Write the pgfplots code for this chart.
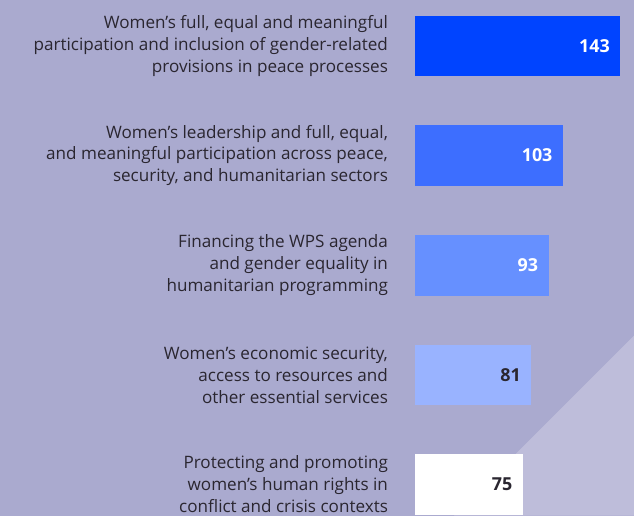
\documentclass[border=0pt]{standalone}
\usepackage{pgfplots}
\pgfplotsset{compat=1.18}
\usepackage{fontspec}
\setmainfont{Open Sans}
\definecolor{bg}{HTML}{AAAACF}
\definecolor{tri}{HTML}{BEBDDA}
\definecolor{txt}{HTML}{2A2630}
\definecolor{cA}{HTML}{0044FF}
\definecolor{cB}{HTML}{3D6EFF}
\definecolor{cC}{HTML}{6690FF}
\definecolor{cD}{HTML}{99B3FF}
\definecolor{cE}{HTML}{FFFFFF}
\begin{document}
\begin{tikzpicture}
\fill[bg] (-418pt,0pt) rectangle (220pt,519pt);
\fill[tri] (220pt,181pt) -- (220pt,0pt) -- (39pt,0pt) -- cycle;
\begin{axis}[
  at={(0pt,0pt)}, anchor=south west,
  scale only axis, width=220pt, height=519pt,
  xmin=0, xmax=152.25, ymin=0, ymax=519, y dir=reverse,
  xbar, bar shift=0pt, bar width=61pt,
  axis line style={draw=none}, tick style={draw=none},
  xtick=\empty,
  /pgf/number format/assume math mode=true,
  ytick={46.5,156.5,267,377.5,487.5},
  yticklabels={
    {Women’s full, equal and meaningful\\participation and inclusion of gender-related\\provisions in peace processes},
    {Women’s leadership and full, equal,\\and meaningful participation across peace,\\security, and humanitarian sectors},
    {Financing the WPS agenda\\and gender equality in\\humanitarian programming},
    {Women’s economic security,\\access to resources and\\other essential services},
    {Protecting and promoting\\women’s human rights in\\conflict and crisis contexts}},
  yticklabel style={align=right, anchor=east, inner sep=0pt, xshift=-23pt,
    font=\fontsize{17.2}{22}\selectfont, text=txt},
  nodes near coords,
  every node near coord/.append style={anchor=east, xshift=-10.5pt, inner sep=0pt,
    font=\bfseries\fontsize{18}{20}\selectfont},
  clip=false,
]
\addplot[fill=cA, draw=none, every node near coord/.append style={text=white}] coordinates {(143,46.5)};
\addplot[fill=cB, draw=none, every node near coord/.append style={text=white}] coordinates {(103,156.5)};
\addplot[fill=cC, draw=none, every node near coord/.append style={text=white}] coordinates {(93,267)};
\addplot[fill=cD, draw=none, every node near coord/.append style={text=txt}] coordinates {(81,377.5)};
\addplot[fill=cE, draw=none, every node near coord/.append style={text=txt}] coordinates {(75,487.5)};
\end{axis}
\end{tikzpicture}
\end{document}
